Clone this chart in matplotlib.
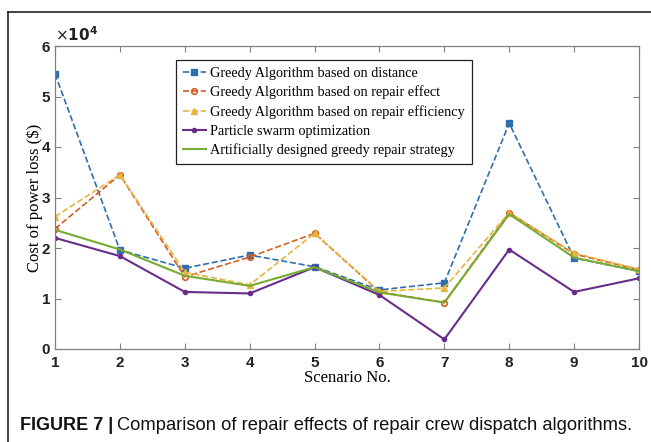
import matplotlib.pyplot as plt
import numpy as np
from matplotlib.lines import Line2D

scenarios = [1, 2, 3, 4, 5, 6, 7, 8, 9, 10]
greedy_distance = [5.45, 1.96, 1.60, 1.86, 1.63, 1.17, 1.31, 4.47, 1.80, 1.54]
greedy_effect = [2.38, 3.45, 1.43, 1.82, 2.29, 1.13, 0.92, 2.70, 1.88, 1.57]
greedy_efficiency = [2.62, 3.45, 1.52, 1.27, 2.29, 1.14, 1.21, 2.70, 1.90, 1.58]
pso = [2.20, 1.84, 1.13, 1.10, 1.62, 1.07, 0.19, 1.97, 1.13, 1.40]
designed = [2.36, 1.97, 1.45, 1.25, 1.62, 1.12, 0.92, 2.67, 1.81, 1.54]

labels = ['Greedy Algorithm based on distance',
          'Greedy Algorithm based on repair effect',
          'Greedy Algorithm based on repair efficiency',
          'Particle swarm optimization',
          'Artificially designed greedy repair strategy']

blue = '#2f6fae'
orange = '#d35f24'
yellow = '#e8b440'
purple = '#6a2c8c'
green = '#77ac30'

serif = ['Liberation Serif', 'DejaVu Serif']
sans = ['Liberation Sans', 'DejaVu Sans']

fig = plt.figure(figsize=(6.51, 4.42), dpi=100)

# outer figure frame (left and top edges)
fig.add_artist(Line2D([8 / 651, 8 / 651], [0, 1 - 12 / 442], color='#222222', lw=1.2))
fig.add_artist(Line2D([8 / 651, 1], [1 - 12 / 442, 1 - 12 / 442], color='#222222', lw=1.2))

ax = fig.add_axes([55 / 651, 93 / 442, (639 - 55) / 651, (349 - 46) / 442])

x = np.array(scenarios)
ax.plot(x, greedy_distance, '--', color=blue, lw=1.2, marker='s', ms=4, mfc=blue, label=labels[0])
ax.plot(x, greedy_effect, '--', color=orange, lw=1.2, marker='o', ms=4, mfc='none', mew=1.2, label=labels[1])
ax.plot(x, greedy_efficiency, '--', color=yellow, lw=1.2, marker='^', ms=5, mfc=yellow, label=labels[2])
ax.plot(x, pso, '-', color=purple, lw=1.5, marker='o', ms=3, mfc=purple, label=labels[3])
ax.plot(x, designed, '-', color=green, lw=1.5, label=labels[4])

ax.set_xlim(1, 10)
ax.set_ylim(0, 6)
ax.set_xticks(scenarios)
ax.set_yticks(range(7))
ax.tick_params(direction='in', top=True, right=True, length=4, color='#808080', width=0.8)
ax.tick_params(axis='x', pad=5)
for lab in ax.get_xticklabels() + ax.get_yticklabels():
    lab.set_family(sans)
    lab.set_fontweight('bold')
    lab.set_fontsize(11)
    lab.set_color('#222222')
for sp in ax.spines.values():
    sp.set_color('#808080')
    sp.set_linewidth(0.9)

ax.text(0, 1.005, r'$\times\mathbf{10^4}$', transform=ax.transAxes, fontsize=11,
        fontweight='bold', ha='left', va='bottom', color='#222222')

ax.set_xlabel('Scenario No.', family=serif, fontsize=12, labelpad=0)
ax.set_ylabel('Cost of power loss ($)', family=serif, fontsize=12, labelpad=-1)

leg = ax.legend(loc='upper left', bbox_to_anchor=(0.2065, 0.955), prop={'family': serif, 'size': 10.3},
                handlelength=1.6, handletextpad=0.3, labelspacing=0.4, borderpad=0.5,
                borderaxespad=0, fancybox=False, framealpha=1, edgecolor='#222222')
leg.get_frame().set_linewidth(0.9)

fig.text(20 / 651, 1 - 425 / 442, 'FIGURE 7 |', family=sans, fontweight='bold', fontsize=13,
         va='center', ha='left', color='#111111')
fig.text(117 / 651, 1 - 425 / 442, 'Comparison of repair effects of repair crew dispatch algorithms.',
         family=sans, fontsize=13.2, va='center', ha='left', color='#111111')

fig.savefig('out.png', dpi=100)
